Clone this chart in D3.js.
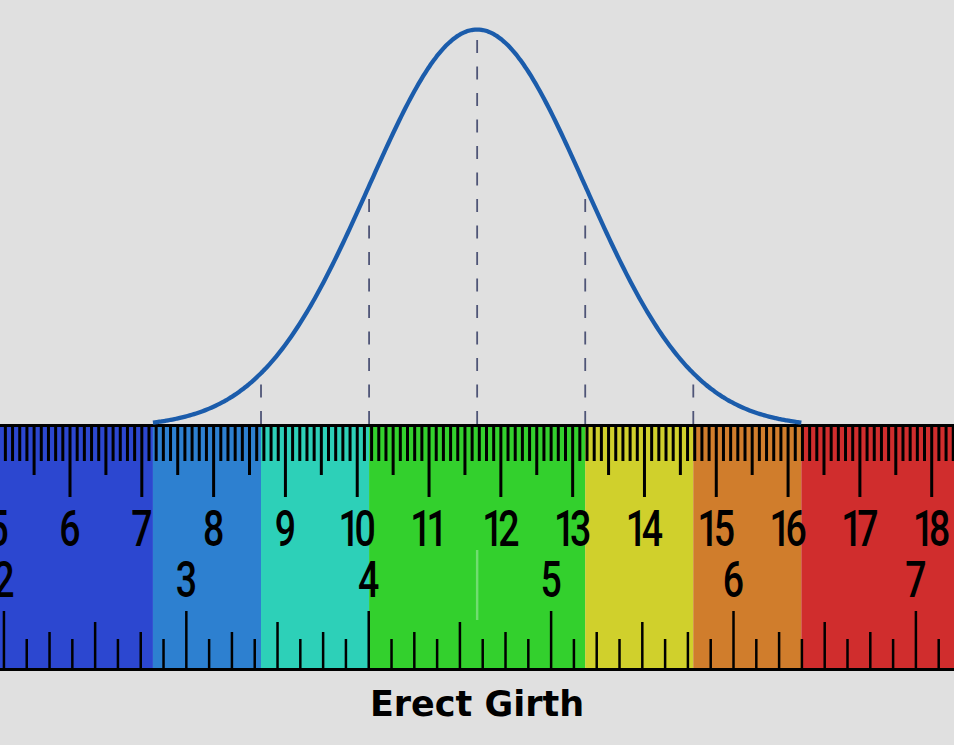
<!DOCTYPE html>
<html>
<head>
<meta charset="utf-8">
<script src="https://cdn.jsdelivr.net/npm/d3@7"></script>
<style>
  html, body { margin: 0; padding: 0; background: #e0e0e0; }
  svg { display: block; }
</style>
</head>
<body>
<svg id="chart" width="954" height="745"></svg>
<script>
// ---- data ----
const meanCm = 11.67;          // mean of the distribution (cm)
const sdCm = 1.505;            // standard deviation (cm)
const sigmaMarks = [-2, -1, 0, 1, 2];          // dashed guide lines
const bandEdges = [-3, -2, -1, 1, 2, 3];       // band boundaries in sd
const bandColors = ["#2c47d0", "#2d80d0", "#2dd0b8", "#33d02d", "#d0d02c", "#d07d2c", "#d02d2d"];
const cmLabels = [5, 6, 7, 8, 9, 10, 11, 12, 13, 14, 15, 16, 17, 18];
const inchLabels = [2, 3, 4, 5, 6, 7];
const title = "Erect Girth";

// ---- layout ----
const W = 954, H = 745;
const rulerTop = 424, rulerBot = 671, border = 3;
const svg = d3.select("#chart");
svg.append("rect").attr("width", W).attr("height", H).attr("fill", "#e0e0e0");

const x = d3.scaleLinear().domain([6, 18]).range([70, 931.7]);   // cm -> px
const xIn = v => x(v * 2.54);
const y = d3.scaleLinear().domain([0, 1]).range([427, 29.5]);    // relative density

// bands
const edgesPx = [0, ...bandEdges.map(k => x(meanCm + k * sdCm)), W];
const bands = bandColors.map((c, i) => ({ x0: edgesPx[i], x1: edgesPx[i + 1], c }));
svg.append("g").selectAll("rect").data(bands).join("rect")
  .attr("x", d => d.x0).attr("width", d => d.x1 - d.x0)
  .attr("y", rulerTop).attr("height", rulerBot - rulerTop)
  .attr("fill", d => d.c);

// mean marker inside ruler
svg.append("line")
  .attr("x1", x(meanCm)).attr("x2", x(meanCm))
  .attr("y1", 550).attr("y2", 620)
  .attr("stroke", "#7be07b").attr("stroke-width", 2.5).attr("opacity", 0.85);

// mm ticks (top)
const cmMin = x.invert(0), cmMax = x.invert(W);
const mm = d3.range(Math.ceil(cmMin * 10), Math.floor(cmMax * 10) + 1);
svg.append("g").selectAll("line").data(mm).join("line")
  .attr("x1", d => x(d / 10)).attr("x2", d => x(d / 10))
  .attr("y1", rulerTop + border)
  .attr("y2", d => rulerTop + border + (d % 10 === 0 ? 70 : d % 5 === 0 ? 48 : 34))
  .attr("stroke", "#000").attr("stroke-width", 3);

// eighth-inch ticks (bottom)
const inMin = cmMin / 2.54, inMax = cmMax / 2.54;
const eighths = d3.range(Math.ceil(inMin * 8), Math.floor(inMax * 8) + 1);
svg.append("g").selectAll("line").data(eighths).join("line")
  .attr("x1", d => xIn(d / 8)).attr("x2", d => xIn(d / 8))
  .attr("y1", rulerBot - border)
  .attr("y2", d => rulerBot - border - (d % 8 === 0 ? 57 : d % 4 === 0 ? 46 : d % 2 === 0 ? 36 : 29))
  .attr("stroke", "#000").attr("stroke-width", 2.5);

// borders
svg.append("rect").attr("x", 0).attr("y", rulerTop).attr("width", W).attr("height", border).attr("fill", "#000");
svg.append("rect").attr("x", 0).attr("y", rulerBot - border).attr("width", W).attr("height", border).attr("fill", "#000");

// labels
function numLabel(g, val, px, base) {
  const two = String(val).length > 1;
  g.append("g").attr("transform", `translate(${px},${base}) scale(0.75,1)`)
    .append("text")
    .attr("text-anchor", "middle")
    .attr("dx", two ? -3.5 : 0)
    .attr("font-family", "Roboto, 'DejaVu Sans', sans-serif")
    .attr("font-weight", 500)
    .attr("font-size", 50)
    .attr("letter-spacing", two ? -7 : 0)
    .attr("fill", "#000")
    .text(val);
}
const lg = svg.append("g");
cmLabels.forEach(v => numLabel(lg, v, x(v), 546));
inchLabels.forEach(v => numLabel(lg, v, xIn(v), 597));

// curve
const pdf = z => Math.exp(-z * z / 2);
const zs = d3.range(-3, 3.0001, 0.02);
const line = d3.line().x(z => x(meanCm + z * sdCm)).y(z => y(pdf(z))).curve(d3.curveBasis);

// dashed guides
svg.append("g").selectAll("line").data(sigmaMarks).join("line")
  .attr("x1", k => x(meanCm + k * sdCm)).attr("x2", k => x(meanCm + k * sdCm))
  .attr("y1", rulerTop).attr("y2", k => y(pdf(k)))
  .attr("stroke", "#4f5577").attr("stroke-width", 1.8)
  .attr("stroke-dasharray", "13,13.5");

svg.append("path").datum(zs).attr("d", line)
  .attr("fill", "none").attr("stroke", "#1b5cab").attr("stroke-width", 4.3)
  .attr("stroke-linecap", "butt");

// title
svg.append("text")
  .attr("x", 477).attr("y", 716)
  .attr("text-anchor", "middle")
  .attr("font-family", "'DejaVu Sans', sans-serif")
  .attr("font-weight", "bold")
  .attr("font-size", 35)
  .attr("fill", "#000")
  .text(title);
</script>
</body>
</html>
